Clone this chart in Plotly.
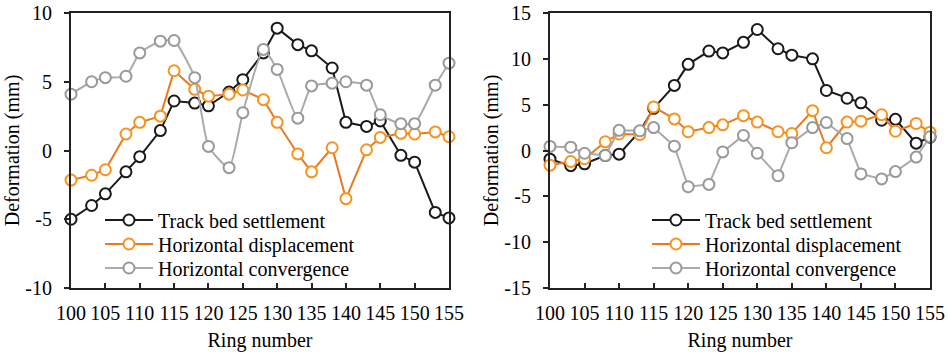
import plotly.graph_objects as go

rings = [100, 103, 105, 108, 110, 113, 115, 118, 120, 123, 125, 128, 130, 133, 135, 138, 140, 143, 145, 148, 150, 153, 155]

settle_L = [-5.0, -4.0, -3.15, -1.55, -0.45, 1.45, 3.6, 3.45, 3.25, 4.25, 5.15, 7.1, 8.9, 7.7, 7.25, 6.0, 2.05, 1.75, 2.15, -0.35, -0.85, -4.5, -4.9]
disp_L = [-2.15, -1.8, -1.4, 1.2, 2.05, 2.5, 5.8, 4.45, 3.95, 4.1, 4.4, 3.7, 2.05, -0.25, -1.55, 0.2, -3.5, 0.05, 0.95, 1.25, 1.2, 1.35, 1.0]
conv_L = [4.1, 5.0, 5.3, 5.4, 7.1, 7.95, 8.0, 5.3, 0.3, -1.25, 2.75, 7.35, 5.9, 2.35, 4.7, 4.9, 5.0, 4.75, 2.6, 1.95, 1.95, 4.75, 6.35]

settle_R = [-0.95, -1.65, -1.45, -0.55, -0.4, 2.1, 4.6, 7.1, 9.4, 10.85, 10.65, 11.8, 13.2, 11.1, 10.4, 10.0, 6.55, 5.7, 5.2, 3.3, 3.4, 0.8, 1.45]
disp_R = [-1.6, -1.2, -0.9, 0.95, 1.8, 1.75, 4.75, 3.45, 2.05, 2.5, 2.8, 3.8, 3.1, 2.05, 1.85, 4.35, 0.3, 3.1, 3.2, 3.9, 2.1, 2.95, 2.0]
conv_R = [0.45, 0.36, -0.3, -0.55, 2.2, 2.15, 2.5, 0.47, -3.95, -3.7, -0.15, 1.65, -0.3, -2.75, 0.85, 2.5, 3.05, 1.3, -2.55, -3.1, -2.3, -0.72, 1.5]

series_names = ["Track bed settlement", "Horizontal displacement", "Horizontal convergence"]
x_ticks = [100, 105, 110, 115, 120, 125, 130, 135, 140, 145, 150, 155]
yL_ticks = [-10, -5, 0, 5, 10]
yL_text = ["-10", "-5", "0", "5", "10"]
yR_ticks = [-15, -10, -5, 0, 5, 10, 15]
yR_text = ["-15", "-10", "-5", "0", "5", "10", "15"]

FONT = "Liberation Serif"
line_cols = ["#1a1a1a", "#EB7A1E", "#AAAAAA"]
mark_cols = ["#1a1a1a", "#F7931E", "#999999"]

W, H = 948, 352
ml, mr, mt, mb = 71, 18, 13, 64
pw = W - ml - mr
ph = H - mt - mb

fig = go.Figure()

legend_rows = [220, 244, 268]
legend_layouts = {}

def add(series, idx, xa, ya, legend_id, lx, shape="linear"):
    fig.add_trace(go.Scatter(
        x=rings, y=series, name=series_names[idx], mode="lines+markers",
        xaxis=xa, yaxis=ya, legend=legend_id, cliponaxis=False,
        line=dict(color=line_cols[idx], width=2, shape=shape, smoothing=0.5 if shape == "spline" else None),
        marker=dict(symbol="circle", size=11, color="white",
                    line=dict(color=mark_cols[idx], width=2)),
    ))
    legend_layouts[legend_id] = dict(
        x=(lx - ml) / pw, y=1 - (legend_rows[idx] - mt) / ph, xanchor="left", yanchor="middle",
        bgcolor="rgba(0,0,0,0)", font=dict(family=FONT, size=20, color="black"),
        itemwidth=48, borderwidth=0)

add(settle_L, 0, "x", "y", "legend", 100)
add(disp_L, 1, "x", "y", "legend2", 100)
add(conv_L, 2, "x", "y", "legend3", 100, shape="spline")
add(settle_R, 0, "x2", "y2", "legend4", 647)
add(disp_R, 1, "x2", "y2", "legend5", 647)
add(conv_R, 2, "x2", "y2", "legend6", 647)

def xdom(a, b):
    return [(a - ml) / pw, (b - ml) / pw]

axis_common = dict(showline=True, linecolor="#222222", linewidth=2, mirror=True,
                   showgrid=False, zeroline=False, automargin=False,
                   tickfont=dict(family=FONT, size=20, color="black"),
                   tickcolor="#222222", tickwidth=2, ticklen=5)

title_font = dict(family=FONT, size=20, color="black")

fig.update_layout(
    width=W, height=H,
    margin=dict(l=ml, r=mr, t=mt, b=mb),
    paper_bgcolor="white", plot_bgcolor="white",
    font=dict(family=FONT, size=20, color="black"),
    xaxis=dict(domain=xdom(71, 449), range=[100, 155], tickvals=x_ticks, ticks="inside",
               ticklabelstandoff=6,
               title=dict(text="Ring number", font=title_font, standoff=10),
               anchor="y", **axis_common),
    yaxis=dict(domain=[0, 1], range=[-10, 10], tickvals=yL_ticks, ticktext=yL_text, ticks="outside",
               ticklabelstandoff=8,
               title=dict(text="Deformation (mm)", font=title_font, standoff=0),
               anchor="x", **axis_common),
    xaxis2=dict(domain=xdom(550, 930), range=[100, 155], tickvals=x_ticks, ticks="inside",
                ticklabelstandoff=6,
                title=dict(text="Ring number", font=title_font, standoff=10),
                anchor="y2", **axis_common),
    yaxis2=dict(domain=[0, 1], range=[-15, 15], tickvals=yR_ticks, ticktext=yR_text, ticks="outside",
                ticklabelstandoff=8,
                title=dict(text="Deformation (mm)", font=title_font, standoff=0),
                anchor="x2", **axis_common),
    showlegend=True,
    **legend_layouts,
)

fig.write_html("out.html")
